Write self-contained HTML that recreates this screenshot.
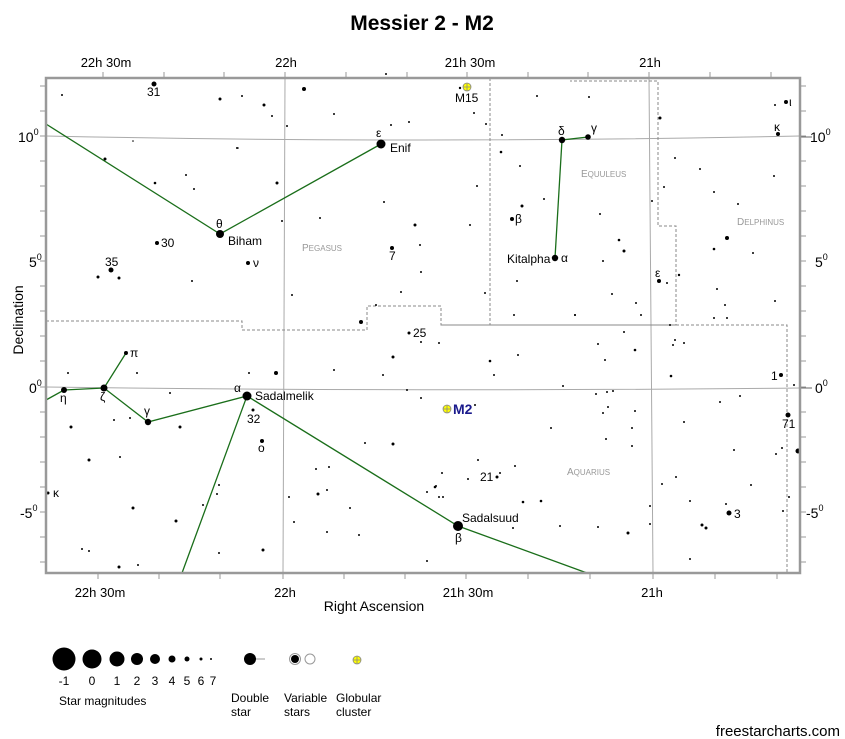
<!DOCTYPE html>
<html><head><meta charset="utf-8"><style>
html,body{margin:0;padding:0;background:#fff;width:845px;height:739px;overflow:hidden}
svg{display:block;font-family:"Liberation Sans",sans-serif}
</style></head><body>
<svg width="845" height="739" viewBox="0 0 845 739" xmlns="http://www.w3.org/2000/svg">
<text x="422" y="30" font-size="21" font-weight="bold" text-anchor="middle">Messier 2 - M2</text>
<g font-size="13" text-anchor="middle" fill="#000">
<text x="106" y="67">22h 30m</text><text x="286" y="67">22h</text><text x="470" y="67">21h 30m</text><text x="650" y="67">21h</text>
<text x="100" y="597">22h 30m</text><text x="285" y="597">22h</text><text x="468" y="597">21h 30m</text><text x="652" y="597">21h</text>
<text x="374" y="611" font-size="14">Right Ascension</text>
</g>
<text transform="translate(23,320) rotate(-90)" font-size="14" text-anchor="middle">Declination</text>
<g font-size="14">
<text x="18" y="142">10<tspan font-size="9" dy="-7">0</tspan></text>
<text x="29" y="267">5<tspan font-size="9" dy="-7">0</tspan></text>
<text x="29" y="393">0<tspan font-size="9" dy="-7">0</tspan></text>
<text x="20" y="518">-5<tspan font-size="9" dy="-7">0</tspan></text>
<text x="810" y="142">10<tspan font-size="9" dy="-7">0</tspan></text>
<text x="815" y="267">5<tspan font-size="9" dy="-7">0</tspan></text>
<text x="815" y="393">0<tspan font-size="9" dy="-7">0</tspan></text>
<text x="806" y="518">-5<tspan font-size="9" dy="-7">0</tspan></text>
</g>
<!-- ticks -->
<g stroke="#999" stroke-width="1">
<path d="M103 72V78M164 72V78M224 72V78M285 72V78M346 72V78M407 72V78M467 72V78M528 72V78M588 72V78M649 72V78M710 72V78M771 72V78"/>
<path d="M98 573V579M159 573V579M220 573V579M283 573V579M344 573V579M405 573V579M466 573V579M528 573V579M590 573V579M653 573V579M715 573V579M777 573V579"/>
<path d="M40 86H46M40 111H46M40 136H46M40 161H46M40 186H46M40 211H46M40 236H46M40 261H46M40 286H46M40 311H46M40 336H46M40 361H46M40 387H46M40 412H46M40 437H46M40 462H46M40 487H46M40 512H46M40 537H46M40 562H46"/>
<path d="M800 86H806M800 111H806M800 136H806M800 161H806M800 186H806M800 211H806M800 236H806M800 261H806M800 286H806M800 311H806M800 336H806M800 361H806M800 387H806M800 412H806M800 437H806M800 462H806M800 487H806M800 512H806M800 537H806M800 562H806"/>
</g>
<!-- grid -->
<g stroke="#aaa" stroke-width="1" fill="none">
<path d="M285 78L283 573M649 78L653 573"/>
<path d="M46 136Q420 144 800 136M46 387Q420 392 800 388"/>
<path d="M800 137H812M800 388H812" stroke="#666"/>
</g>
<!-- boundaries -->
<g stroke="#888" stroke-width="1" fill="none" stroke-dasharray="3,2">
<path d="M46 321H242V330H367V306H441V325H676V226H658V81H570"/>
<path d="M490 78V325M441 325H787V573"/>
</g>
<!-- constellation lines -->
<g stroke="#1a6e1a" stroke-width="1.3" fill="none">
<path d="M46 124L220 234L381 144"/>
<path d="M588 137L562 140L555 258"/>
<path d="M46 400L64 390L104 388L148 422L247 396L182 573M104 388L126 353M247 396L458 526L587 573"/>
</g>
<!-- stars -->
<g fill="#000">
<circle cx="62" cy="95" r="1"/><circle cx="154" cy="84" r="2.5"/><circle cx="220" cy="99" r="1.5"/><circle cx="242" cy="96" r="1"/><circle cx="264" cy="105" r="1.5"/><circle cx="272" cy="116" r="1"/><circle cx="287" cy="126" r="1"/><circle cx="304" cy="89" r="2"/><circle cx="334" cy="114" r="1"/><circle cx="409" cy="122" r="1"/><circle cx="391" cy="125" r="1"/><circle cx="237" cy="148" r="1"/><circle cx="105" cy="159" r="1.5"/><circle cx="155" cy="183" r="1.3"/><circle cx="186" cy="175" r="1"/><circle cx="194" cy="189" r="1"/><circle cx="277" cy="183" r="1.5"/><circle cx="282" cy="221" r="1"/><circle cx="320" cy="218" r="1"/><circle cx="292" cy="295" r="1"/><circle cx="133" cy="141" r="0.8"/><circle cx="238" cy="148" r="0.8"/>
<circle cx="381" cy="144" r="4.5"/><circle cx="220" cy="234" r="4"/><circle cx="157" cy="243" r="2"/><circle cx="111" cy="270" r="2.5"/><circle cx="98" cy="277" r="1.5"/><circle cx="119" cy="278" r="1.5"/><circle cx="192" cy="281" r="1"/><circle cx="248" cy="263" r="2"/><circle cx="392" cy="248" r="2"/><circle cx="384" cy="202" r="1"/><circle cx="415" cy="225" r="1.5"/><circle cx="420" cy="245" r="1"/><circle cx="421" cy="272" r="1"/><circle cx="401" cy="292" r="1"/><circle cx="361" cy="322" r="2"/><circle cx="376" cy="305" r="1"/><circle cx="386" cy="74" r="1"/>
<circle cx="460" cy="88" r="1.2"/><circle cx="474" cy="113" r="1"/><circle cx="486" cy="124" r="1"/><circle cx="477" cy="186" r="1"/><circle cx="470" cy="225" r="1"/><circle cx="485" cy="293" r="1"/><circle cx="502" cy="135" r="1"/><circle cx="501" cy="152" r="1.3"/><circle cx="537" cy="96" r="1"/><circle cx="520" cy="166" r="1"/><circle cx="544" cy="199" r="1"/><circle cx="522" cy="206" r="1.5"/><circle cx="512" cy="219" r="2"/><circle cx="517" cy="281" r="1"/><circle cx="514" cy="315" r="1"/><circle cx="575" cy="315" r="1"/><circle cx="600" cy="214" r="1"/><circle cx="619" cy="240" r="1.3"/><circle cx="624" cy="251" r="1.5"/><circle cx="603" cy="261" r="1"/><circle cx="636" cy="303" r="1"/><circle cx="612" cy="294" r="1"/><circle cx="589" cy="97" r="1"/><circle cx="660" cy="118" r="1.5"/><circle cx="652" cy="201" r="1"/><circle cx="664" cy="187" r="1"/><circle cx="659" cy="281" r="2"/><circle cx="667" cy="283" r="1"/><circle cx="679" cy="275" r="1.2"/><circle cx="675" cy="340" r="1"/><circle cx="675" cy="158" r="1"/><circle cx="700" cy="169" r="1"/><circle cx="714" cy="192" r="1"/><circle cx="714" cy="249" r="1.3"/><circle cx="727" cy="238" r="2"/><circle cx="738" cy="204" r="1"/><circle cx="753" cy="253" r="1"/><circle cx="774" cy="176" r="1"/><circle cx="775" cy="301" r="1"/><circle cx="775" cy="105" r="1"/><circle cx="786" cy="102" r="2"/><circle cx="778" cy="134" r="2"/><circle cx="725" cy="305" r="1"/><circle cx="727" cy="318" r="1"/><circle cx="714" cy="318" r="1"/><circle cx="717" cy="289" r="1"/><circle cx="641" cy="315" r="1"/><circle cx="575" cy="315" r="1"/><circle cx="670" cy="325" r="1"/>
<circle cx="555" cy="258" r="3.2"/><circle cx="562" cy="140" r="3.2"/><circle cx="588" cy="137" r="2.8"/>
<circle cx="64" cy="390" r="3"/><circle cx="104" cy="388" r="3.5"/><circle cx="148" cy="422" r="3.2"/><circle cx="126" cy="353" r="2"/><circle cx="247" cy="396" r="4.5"/><circle cx="253" cy="410" r="1.5"/><circle cx="262" cy="441" r="2"/><circle cx="68" cy="373" r="1"/><circle cx="137" cy="373" r="1"/><circle cx="249" cy="373" r="1"/><circle cx="276" cy="373" r="2"/><circle cx="170" cy="393" r="1"/><circle cx="71" cy="427" r="1.5"/><circle cx="114" cy="420" r="1"/><circle cx="130" cy="418" r="1"/><circle cx="180" cy="427" r="1.5"/><circle cx="89" cy="460" r="1.5"/><circle cx="120" cy="457" r="1"/><circle cx="48" cy="493" r="1.5"/><circle cx="133" cy="508" r="1.5"/><circle cx="176" cy="521" r="1.5"/><circle cx="82" cy="549" r="1"/><circle cx="89" cy="551" r="1"/><circle cx="138" cy="565" r="1"/><circle cx="119" cy="567" r="1.5"/><circle cx="219" cy="485" r="1"/><circle cx="217" cy="494" r="1"/><circle cx="203" cy="505" r="1"/><circle cx="219" cy="553" r="1"/><circle cx="263" cy="550" r="1.5"/><circle cx="289" cy="497" r="1"/><circle cx="294" cy="522" r="1"/><circle cx="318" cy="494" r="1.5"/><circle cx="316" cy="469" r="1"/><circle cx="329" cy="467" r="1"/><circle cx="327" cy="490" r="1"/><circle cx="350" cy="508" r="1"/><circle cx="359" cy="535" r="1"/><circle cx="365" cy="443" r="1"/><circle cx="393" cy="444" r="1.5"/><circle cx="409" cy="333" r="1.5"/><circle cx="393" cy="357" r="1.5"/><circle cx="421" cy="342" r="1"/><circle cx="407" cy="390" r="1"/><circle cx="421" cy="398" r="1"/><circle cx="334" cy="370" r="1"/><circle cx="383" cy="375" r="1"/><circle cx="475" cy="405" r="1"/><circle cx="427" cy="492" r="1"/><circle cx="436" cy="486" r="1"/><circle cx="439" cy="497" r="1"/><circle cx="468" cy="479" r="1"/><circle cx="427" cy="561" r="1"/><circle cx="327" cy="532" r="1"/>
<circle cx="439" cy="343" r="1"/><circle cx="490" cy="361" r="1.3"/><circle cx="494" cy="375" r="1"/><circle cx="518" cy="355" r="1"/><circle cx="563" cy="386" r="1"/><circle cx="596" cy="394" r="1"/><circle cx="607" cy="392" r="1"/><circle cx="613" cy="391" r="1"/><circle cx="598" cy="344" r="1"/><circle cx="605" cy="360" r="1"/><circle cx="624" cy="332" r="1"/><circle cx="635" cy="350" r="1.3"/><circle cx="608" cy="407" r="1"/><circle cx="603" cy="413" r="1"/><circle cx="635" cy="411" r="1"/><circle cx="551" cy="428" r="1"/><circle cx="606" cy="439" r="1"/><circle cx="632" cy="428" r="1"/><circle cx="632" cy="446" r="1"/><circle cx="478" cy="460" r="1"/><circle cx="442" cy="473" r="1"/><circle cx="515" cy="466" r="1"/><circle cx="435" cy="487" r="1.3"/><circle cx="443" cy="497" r="1"/><circle cx="523" cy="502" r="1.3"/><circle cx="541" cy="501" r="1.3"/><circle cx="513" cy="528" r="1"/><circle cx="560" cy="526" r="1"/><circle cx="598" cy="527" r="1"/><circle cx="628" cy="533" r="1.5"/><circle cx="650" cy="506" r="1"/><circle cx="650" cy="524" r="1"/><circle cx="671" cy="376" r="1.3"/><circle cx="673" cy="345" r="1"/><circle cx="684" cy="343" r="1"/><circle cx="684" cy="422" r="1"/><circle cx="662" cy="484" r="1"/><circle cx="676" cy="477" r="1"/><circle cx="690" cy="501" r="1"/><circle cx="690" cy="559" r="1"/><circle cx="720" cy="402" r="1"/><circle cx="740" cy="396" r="1"/><circle cx="734" cy="450" r="1"/><circle cx="751" cy="485" r="1"/><circle cx="726" cy="504" r="1"/><circle cx="702" cy="525" r="1.5"/><circle cx="706" cy="528" r="1.5"/><circle cx="729" cy="513" r="2.5"/><circle cx="781" cy="375" r="2"/><circle cx="794" cy="385" r="1"/><circle cx="788" cy="415" r="2.5"/><circle cx="798" cy="451" r="2.5"/><circle cx="782" cy="448" r="1"/><circle cx="776" cy="454" r="1"/><circle cx="783" cy="511" r="1"/><circle cx="789" cy="497" r="1"/><circle cx="497" cy="477" r="1.5"/><circle cx="500" cy="473" r="1"/>
<circle cx="458" cy="526" r="5"/>
</g>
<!-- clusters -->
<g stroke="#888" stroke-width="0.8"><circle cx="467" cy="87" r="4" fill="#ff0"/><path d="M463 87H471M467 83V91"/>
<circle cx="447" cy="409" r="4" fill="#ff0"/><path d="M443 409H451M447 405V413"/></g>
<!-- labels -->
<g font-size="12" fill="#000">
<text x="147" y="96">31</text><text x="376" y="137">ε</text><text x="390" y="152">Enif</text>
<text x="216" y="228">θ</text><text x="228" y="245">Biham</text><text x="161" y="247">30</text><text x="105" y="266">35</text><text x="253" y="267">ν</text><text x="389" y="260">7</text>
<text x="455" y="102">M15</text><text x="558" y="135">δ</text><text x="591" y="132">γ</text><text x="515" y="223">β</text><text x="507" y="263">Kitalpha</text><text x="561" y="262">α</text><text x="655" y="277">ε</text><text x="774" y="131">κ</text><text x="789" y="106">ι</text>
<text x="130" y="357">π</text><text x="60" y="402">η</text><text x="100" y="401">ζ</text><text x="144" y="415">γ</text><text x="234" y="392">α</text><text x="255" y="400">Sadalmelik</text><text x="247" y="423">32</text><text x="258" y="452">ο</text><text x="53" y="497">κ</text>
<text x="413" y="337">25</text><text x="480" y="481">21</text><text x="462" y="522">Sadalsuud</text><text x="455" y="542">β</text><text x="734" y="518">3</text><text x="771" y="380">1</text><text x="782" y="428">71</text>
</g>
<text x="453" y="414" font-size="14" font-weight="bold" fill="#1a1a8c">M2</text>
<g font-size="10" fill="#999">
<text x="302" y="251">P<tspan font-size="8">EGASUS</tspan></text>
<text x="581" y="177">E<tspan font-size="8">QUULEUS</tspan></text>
<text x="737" y="225">D<tspan font-size="8">ELPHINUS</tspan></text>
<text x="567" y="475">A<tspan font-size="8">QUARIUS</tspan></text>
</g>
<!-- frame -->
<rect x="46" y="78" width="754" height="495" fill="none" stroke="#999" stroke-width="2.5"/>
<!-- legend -->
<g fill="#000">
<circle cx="64" cy="659" r="11.5"/><circle cx="92" cy="659" r="9.5"/><circle cx="117" cy="659" r="7.5"/><circle cx="137" cy="659" r="6"/><circle cx="155" cy="659" r="5"/><circle cx="172" cy="659" r="3.5"/><circle cx="187" cy="659" r="2.5"/><circle cx="201" cy="659" r="1.5"/><circle cx="211" cy="659" r="1"/>
<path d="M250 659H265" stroke="#999"/><circle cx="250" cy="659" r="6"/>
<circle cx="295" cy="659" r="5.5" fill="#fff" stroke="#999"/><circle cx="295" cy="659" r="4"/><circle cx="310" cy="659" r="5" fill="#fff" stroke="#999"/>
</g>
<g stroke="#888" stroke-width="0.8"><circle cx="357" cy="660" r="4" fill="#ff0"/><path d="M353 660H361M357 656V664"/></g>
<g font-size="12" fill="#000" text-anchor="middle">
<text x="64" y="685">-1</text><text x="92" y="685">0</text><text x="117" y="685">1</text><text x="137" y="685">2</text><text x="155" y="685">3</text><text x="172" y="685">4</text><text x="187" y="685">5</text><text x="201" y="685">6</text><text x="213" y="685">7</text>
</g>
<g font-size="12" fill="#000">
<text x="59" y="705">Star magnitudes</text>
<text x="231" y="702">Double</text><text x="231" y="716">star</text>
<text x="284" y="702">Variable</text><text x="284" y="716">stars</text>
<text x="336" y="702">Globular</text><text x="336" y="716">cluster</text>
</g>
<text x="840" y="736" font-size="15" text-anchor="end">freestarcharts.com</text>
</svg>
</body></html>
